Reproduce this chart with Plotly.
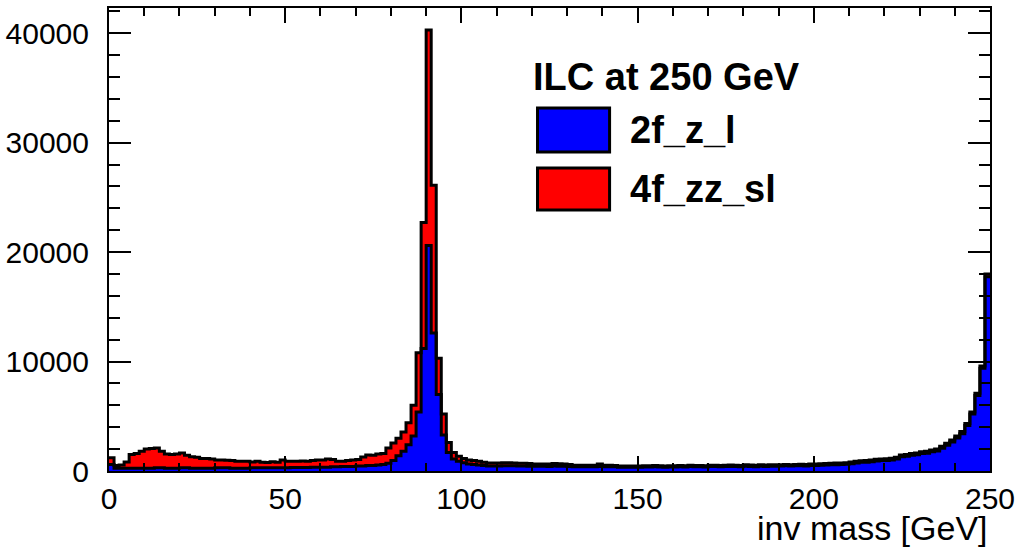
import numpy as np
import plotly.graph_objects as go

# histogram binning: 175 bins from 0 to 250 GeV
x_min, x_max, n_bins = 0.0, 250.0, 175

# 2f_z_l (blue) bin contents
z2f_l = [
    600, 250, 250, 250, 250, 250, 250, 250, 250, 300,
    300, 250, 250, 250, 300, 300, 250, 250, 250, 250,
    250, 300, 300, 300, 250, 250, 250, 250, 300, 300,
    300, 300, 300, 300, 300, 300, 320, 320, 320, 320,
    350, 350, 350, 350, 380, 380, 400, 400, 420, 450,
    450, 500, 500, 550, 600, 700, 950, 1400, 1800, 2400,
    3200, 5400, 11200, 20600, 12600, 7000, 3300, 1700, 1100, 900,
    750, 650, 600, 550, 500, 450, 450, 450, 480, 480,
    470, 450, 450, 440, 430, 430, 430, 420, 450, 440,
    430, 420, 380, 380, 380, 380, 380, 420, 380, 380,
    380, 350, 350, 350, 350, 350, 360, 360, 380, 370,
    350, 360, 360, 380, 360, 400, 380, 390, 370, 400,
    410, 380, 400, 420, 400, 390, 430, 410, 390, 430,
    420, 440, 430, 450, 470, 450, 470, 480, 460, 500,
    510, 520, 540, 560, 580, 590, 610, 670, 730, 790,
    810, 850, 920, 950, 970, 1000, 1090, 1300, 1340, 1440,
    1490, 1600, 1630, 1750, 1830, 2070, 2350, 2650, 3020, 3410,
    4150, 5200, 6900, 9380, 17750,
]

# 4f_zz_sl (red) bin contents
zz4f_sl = [
    600, 250, 300, 570, 1250, 1350, 1550, 1750, 1800, 1800,
    1500, 1300, 1250, 1300, 1350, 1150, 1050, 1000, 900, 900,
    850, 700, 700, 680, 700, 650, 650, 630, 520, 600,
    500, 480, 550, 500, 700, 600, 560, 580, 600, 560,
    600, 650, 650, 750, 670, 520, 500, 550, 580, 600,
    830, 960, 950, 1000, 1000, 1400, 1610, 1600, 1760, 2000,
    2800, 5400, 11500, 19700, 13500, 3300, 1900, 900, 600, 450,
    400, 350, 350, 350, 300, 280, 280, 270, 280, 280,
    250, 250, 250, 240, 210, 210, 210, 220, 230, 220,
    220, 180, 140, 140, 140, 140, 140, 230, 140, 140,
    120, 110, 110, 110, 110, 110, 120, 110, 120, 110,
    110, 110, 120, 120, 120, 120, 120, 120, 120, 120,
    120, 120, 120, 120, 120, 120, 130, 130, 130, 130,
    130, 130, 130, 130, 130, 130, 130, 140, 140, 140,
    140, 140, 140, 140, 140, 150, 150, 150, 150, 150,
    150, 150, 150, 150, 150, 160, 160, 160, 160, 160,
    160, 170, 170, 170, 170, 180, 180, 180, 180, 190,
    200, 200, 200, 220, 250,
]

x_ticks = [0, 50, 100, 150, 200, 250]
x_labels = ["0", "50", "100", "150", "200", "250"]
y_ticks = [0, 10000, 20000, 30000, 40000]
y_labels = ["0", "10000", "20000", "30000", "40000"]
header = "ILC at 250 GeV"
names = ["2f_z_l", "4f_zz_sl"]
colors = ["#0000ff", "#ff0000"]
x_title = "inv mass [GeV]"

edges = np.linspace(x_min, x_max, n_bins + 1)
xs = list(edges)

def step_y(vals):
    return list(vals) + [vals[-1]]

fig = go.Figure()
for vals, name, col in zip([z2f_l, zz4f_sl], names, colors):
    fig.add_trace(go.Scatter(
        x=xs, y=step_y(vals), name=name, mode="lines",
        line=dict(shape="hv", color="black", width=3),
        fillcolor=col, stackgroup="one", showlegend=False,
        hoverinfo="skip",
    ))

FONT = "Liberation Sans, Arial, Helvetica, sans-serif"

fig.update_layout(
    width=1015, height=550,
    margin=dict(l=109, r=25, t=8, b=79),
    paper_bgcolor="white", plot_bgcolor="white",
    font=dict(family=FONT, color="black"),
    xaxis=dict(
        range=[x_min - 0.001, x_max + 0.001], tickvals=x_ticks, ticktext=x_labels,
        ticks="inside", ticklen=15, automargin=False, ticklabeloverflow="allow",
        tickwidth=2, tickcolor="black", showline=True, linewidth=2, linecolor="black",
        mirror="ticks", showgrid=False, zeroline=False,
        tickfont=dict(size=30, family=FONT),
        minor=dict(dtick=10, ticks="inside", ticklen=8, tickwidth=2, tickcolor="black", showgrid=False),
        ticklabelstandoff=0,
    ),
    yaxis=dict(
        range=[0, 42300], tickvals=y_ticks, ticktext=y_labels,
        ticks="inside", ticklen=22, automargin=False, ticklabeloverflow="allow",
        tickwidth=2, tickcolor="black", showline=True, linewidth=2, linecolor="black",
        mirror="ticks", showgrid=False, zeroline=False,
        tickfont=dict(size=30, family=FONT),
        minor=dict(dtick=2000, ticks="inside", ticklen=11, tickwidth=2, tickcolor="black", showgrid=False),
        ticklabelstandoff=12,
    ),
)

# x-axis title (ROOT style, right aligned under axis)
fig.add_annotation(x=1.0, y=-0.123, xref="paper", yref="paper", text=x_title,
                   showarrow=False, xanchor="right", yanchor="middle",
                   font=dict(size=34, family=FONT, color="black"))

# legend (ROOT TLegend style)
fig.add_annotation(x=0.4795, y=0.851, xref="paper", yref="paper", text="<b>%s</b>" % header,
                   showarrow=False, xanchor="left", yanchor="middle",
                   font=dict(size=38, family=FONT, color="black"))
leg_y = [(0.784, 0.689), (0.6544, 0.5637)]
for (y1, y0), name, col in zip(leg_y, names, colors):
    fig.add_shape(type="rect", xref="paper", yref="paper", x0=0.4864, x1=0.5682,
                  y0=y0, y1=y1, fillcolor=col, line=dict(color="black", width=3))
    fig.add_annotation(x=0.5886, y=(y0 + y1) / 2, xref="paper", yref="paper",
                       text="<b>%s</b>" % name, showarrow=False, xanchor="left",
                       yanchor="middle", font=dict(size=38, family=FONT, color="black"))

# remove the default page margin so the 1015x550 figure fills the window exactly
fig.write_html("out.html", config={"displayModeBar": False},
               post_script="document.body.style.margin='0px';document.body.style.overflow='hidden';")
